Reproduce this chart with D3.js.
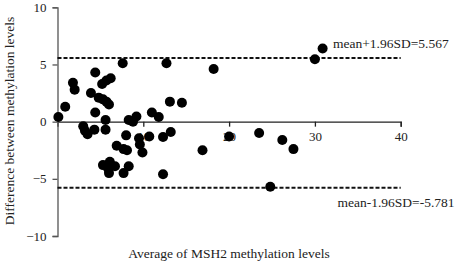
<!DOCTYPE html>
<html lang="en">
    <head>
        <meta charset="utf-8">
        <title>Bland-Altman MSH2</title>
        <script type="text/javascript" src="https://d3js.org/d3.v7.min.js"></script>
        <style>
            body {
                margin: 0;
                background: #fff;
            }
            svg text {
                font-family: "Liberation Serif", "DejaVu Serif", serif;
                fill: #222;
            }
            .axis text {
                font-size: 13px
            }
        </style>
    </head>
    <body>
        <script>
            // data: average (x) and difference (y) of MSH2 methylation levels
            const avgValues = [0.1, 0.9, 1.8, 2.0, 3.0, 3.2, 3.5, 4.4, 3.9, 4.4, 4.3, 4.8, 5.2, 5.7, 6.2,
                5.3, 5.7, 6.0, 5.6, 5.6, 5.3, 6.1, 5.9, 6.0, 6.7, 7.6, 6.9, 7.7, 8.1, 8.0, 7.7, 8.3,
                8.3, 8.8, 9.2, 9.5, 9.6, 9.9, 10.7, 11.0, 11.8, 12.3, 13.2, 12.3, 12.7, 13.1, 14.5,
                16.9, 18.2, 20.0, 23.5, 26.2, 27.5, 24.8, 30.0, 30.9];
            const diffValues = [0.4, 1.3, 3.4, 2.8, -0.4, -0.8, -1.1, 4.3, 2.5, 0.8, -0.7, 2.1, 3.3, 3.6, 3.8,
                1.95, 1.75, 1.5, 0.15, -0.7, -3.8, -3.5, -4.1, -4.5, -3.9, 5.1, -2.1, -2.4, -2.5, -1.2, -4.5, -3.9,
                0.15, 0.0, 0.45, -1.45, -2.0, -2.7, -1.3, 0.8, 0.4, -1.35, -0.9, -4.6, 5.1, 1.75, 1.65,
                -2.5, 4.6, -1.3, -1.0, -1.6, -2.4, -5.7, 5.45, 6.4];
            const meanPlus = 5.567;
            const meanMinus = -5.781;
            const xTicks = [10, 20, 30, 40];
            const yTicks = [-10, -5, 0, 5, 10];

            const dataset = avgValues.map(function(d, i) { return [d, diffValues[i]]; });

            const w = 459;
            const h = 264;
            const svg = d3.select("body")
                        .append("svg")
                        .attr("width", w)
                        .attr("height", h)

            // scales
            const xScale = d3.scaleLinear()
                            .domain([0, 40])
                            .range([57.5, 400.7])
            const yScale = d3.scaleLinear()
                            .domain([-10, 10])
                            .range([236, 7.3])

            // axes
            const xAxis = d3.axisBottom(xScale)
                            .tickValues(xTicks)
                            .tickSize(5)
                            .tickPadding(5)
            const yAxis = d3.axisLeft(yScale)
                            .tickValues(yTicks)
                            .tickSize(5)
                            .tickPadding(6)

            svg.append("g")
                .attr("class", "axis")
                .attr("transform", `translate(0,${yScale(0)})`)
                .call(xAxis)
                .call(g => g.select(".domain").attr("stroke", "#222").attr("stroke-width", 1.3))
                .call(g => g.selectAll(".tick line").attr("stroke", "#222").attr("stroke-width", 1.3))

            svg.append("g")
                .attr("class", "axis")
                .attr("transform", `translate(${xScale(0)},0)`)
                .call(yAxis)
                .call(g => g.select(".domain").attr("stroke", "#555").attr("stroke-width", 1.3))
                .call(g => g.selectAll(".tick line").attr("stroke", "#555").attr("stroke-width", 1.3))

            // limits of agreement
            svg.selectAll("line.limit")
                .data([meanPlus, meanMinus])
                .enter()
                .append("line")
                .attr("class", "limit")
                .attr("x1", xScale(0))
                .attr("x2", xScale(40))
                .attr("y1", d => yScale(d))
                .attr("y2", d => yScale(d))
                .attr("stroke", "#111")
                .attr("stroke-width", 2)
                .attr("stroke-dasharray", "4,2")

            // points
            svg.selectAll("circle")
                .data(dataset)
                .enter()
                .append("circle")
                .attr("cx", d => xScale(d[0]))
                .attr("cy", d => yScale(d[1]))
                .attr("r", 5)
                .attr("fill", "#000")

            // labels
            svg.append("text")
                .attr("x", 333)
                .attr("y", 48)
                .style("font-size", "13.5px")
                .text("mean+1.96SD=" + meanPlus)
            svg.append("text")
                .attr("x", 337.5)
                .attr("y", 207)
                .style("font-size", "13.5px")
                .text("mean-1.96SD=" + meanMinus)

            svg.append("text")
                .attr("x", 229)
                .attr("y", 258)
                .attr("text-anchor", "middle")
                .style("font-size", "13.5px")
                .text("Average of MSH2 methylation levels")

            svg.append("text")
                .attr("transform", `translate(13.5,121) rotate(-90)`)
                .attr("text-anchor", "middle")
                .style("font-size", "13.5px")
                .text("Difference between methylation levels")
        </script>
    </body>
</html>
